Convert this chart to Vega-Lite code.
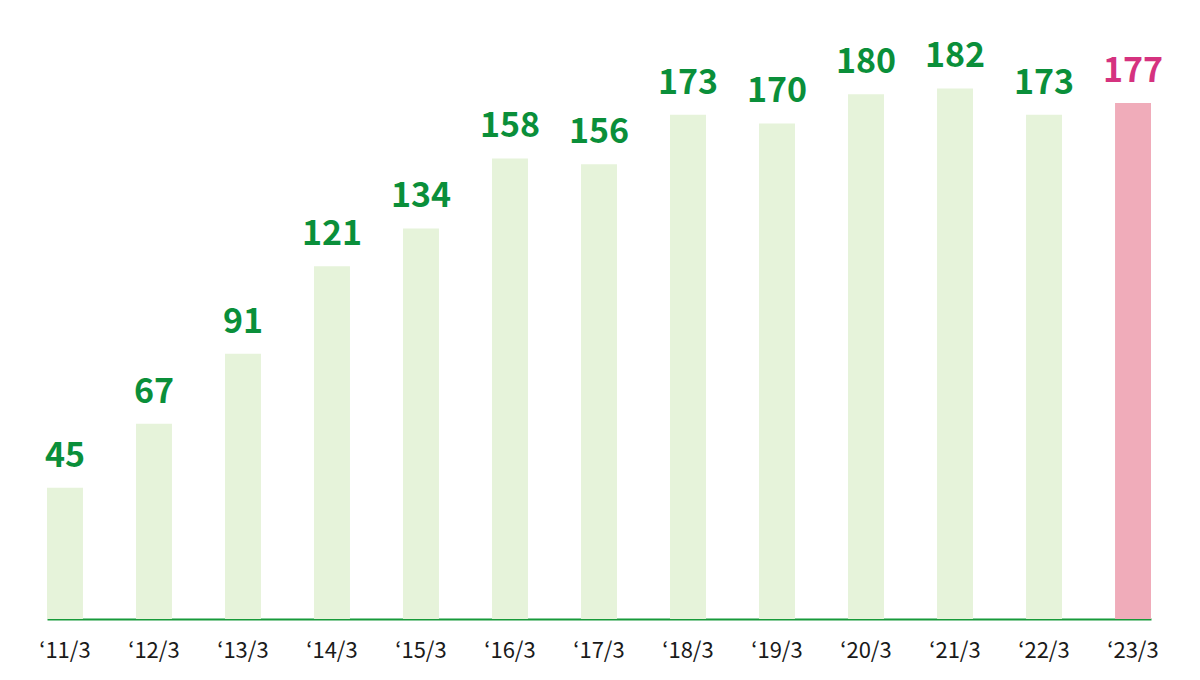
{
  "$schema": "https://vega.github.io/schema/vega-lite/v6.json",
  "width": 1104,
  "height": 583,
  "autosize": {"type": "none"},
  "padding": {"left": 47, "top": 36, "right": 49, "bottom": 61},
  "background": "white",
  "config": {"view": {"stroke": null}},
  "data": {
    "values": [
      {"year": "‘11/3", "value": 45},
      {"year": "‘12/3", "value": 67},
      {"year": "‘13/3", "value": 91},
      {"year": "‘14/3", "value": 121},
      {"year": "‘15/3", "value": 134},
      {"year": "‘16/3", "value": 158},
      {"year": "‘17/3", "value": 156},
      {"year": "‘18/3", "value": 173},
      {"year": "‘19/3", "value": 170},
      {"year": "‘20/3", "value": 180},
      {"year": "‘21/3", "value": 182},
      {"year": "‘22/3", "value": 173},
      {"year": "‘23/3", "value": 177}
    ]
  },
  "encoding": {
    "x": {
      "field": "year", "type": "nominal", "sort": null,
      "scale": {"paddingInner": 0.596, "paddingOuter": 0},
      "axis": {
        "title": null, "labelAngle": 0, "ticks": false,
        "domainColor": "#179a3a", "domainWidth": 2,
        "labelFont": "Noto Sans CJK JP", "labelFontSize": 22,
        "labelColor": "#1a1a1a", "labelPadding": 21, "grid": false
      }
    },
    "y": {
      "field": "value", "type": "quantitative",
      "scale": {"domain": [0, 200]},
      "axis": null
    }
  },
  "layer": [
    {
      "mark": {"type": "bar"},
      "encoding": {
        "color": {
          "condition": {"test": "datum.year == '‘23/3'", "value": "#f0acba"},
          "value": "#e6f3da"
        }
      }
    },
    {
      "mark": {
        "type": "text", "baseline": "alphabetic", "dy": -21,
        "font": "Noto Sans CJK JP", "fontSize": 34, "fontWeight": "bold"
      },
      "encoding": {
        "text": {"field": "value", "type": "quantitative"},
        "color": {
          "condition": {"test": "datum.year == '‘23/3'", "value": "#d5327f"},
          "value": "#0a8f3a"
        }
      }
    }
  ]
}
